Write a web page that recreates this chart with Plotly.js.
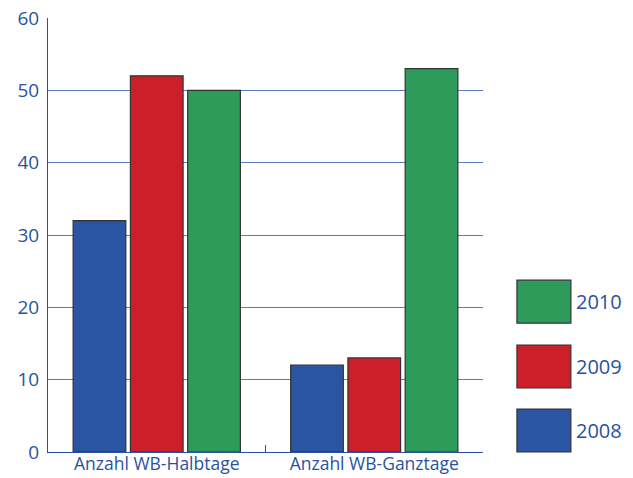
<!DOCTYPE html>
<html><head><meta charset="utf-8">
<script src="https://cdn.plot.ly/plotly-3.0.1.min.js"></script>
<style>html,body{margin:0;padding:0;background:#fff}#c{width:633px;height:478px}</style>
</head><body><div id="c"></div>
<script>
const categories = ["Anzahl WB-Halbtage", "Anzahl WB-Ganztage"];
const years = ["2008", "2009", "2010"];
const values2008 = [32, 12];
const values2009 = [52, 13];
const values2010 = [50, 53];
const colors = ["#2b54a3", "#cc1f2a", "#2e9b5b"];
const yTicks = [0, 10, 20, 30, 40, 50, 60];

const series = [values2008, values2009, values2010];
const textBlue = "#2a52a0";
const font = "Open Sans, Noto Sans, sans-serif";

const traces = series.map((v, i) => ({
  type: "bar", x: categories, y: v, name: years[i],
  marker: {color: colors[i], line: {color: "#333", width: 1.2}},
  showlegend: false, hoverinfo: "skip"
}));

// legend built manually (large swatches)
const shapes = [], annotations = [];
const legendTops = [0.396, 0.2465, 0.099];
for (let k = 0; k < 3; k++) {
  const idx = 2 - k; // 2010 on top
  const top = legendTops[k], h = 0.099;
  shapes.push({type: "rect", xref: "paper", yref: "paper",
    x0: 1.078, x1: 1.202, y0: top - h, y1: top,
    fillcolor: colors[idx], line: {color: "#333", width: 1.2}});
  annotations.push({xref: "paper", yref: "paper", x: 1.209, y: top - h / 2,
    xanchor: "left", yanchor: "middle", showarrow: false, text: years[idx],
    font: {family: font, size: 20, color: textBlue}});
}

const layout = {
  width: 633, height: 478,
  margin: {l: 48, r: 150, t: 18, b: 26},
  paper_bgcolor: "#fff", plot_bgcolor: "#fff",
  barmode: "group", bargap: 0.21, bargroupgap: 0.08,
  font: {family: font, color: textBlue},
  xaxis: {
    type: "category", showline: true, linecolor: textBlue, linewidth: 1,
    ticks: "inside", tickson: "boundaries", ticklen: 7, tickcolor: textBlue,
    tickfont: {family: font, size: 17.5, color: textBlue},
    ticklabelstandoff: -4,
    showgrid: false, fixedrange: true
  },
  yaxis: {
    range: [0, 60], tickvals: yTicks, ticktext: yTicks.map(String),
    showline: true, linecolor: textBlue, linewidth: 1, mirror: false,
    showgrid: true, gridcolor: "#5a7cbf", gridwidth: 1,
    zeroline: false, ticks: "", ticklabelstandoff: 4,
    tickfont: {family: font, size: 19, color: textBlue}, fixedrange: true
  },
  shapes: shapes, annotations: annotations
};

Plotly.newPlot("c", traces, layout, {staticPlot: true, displayModeBar: false});
</script></body></html>
